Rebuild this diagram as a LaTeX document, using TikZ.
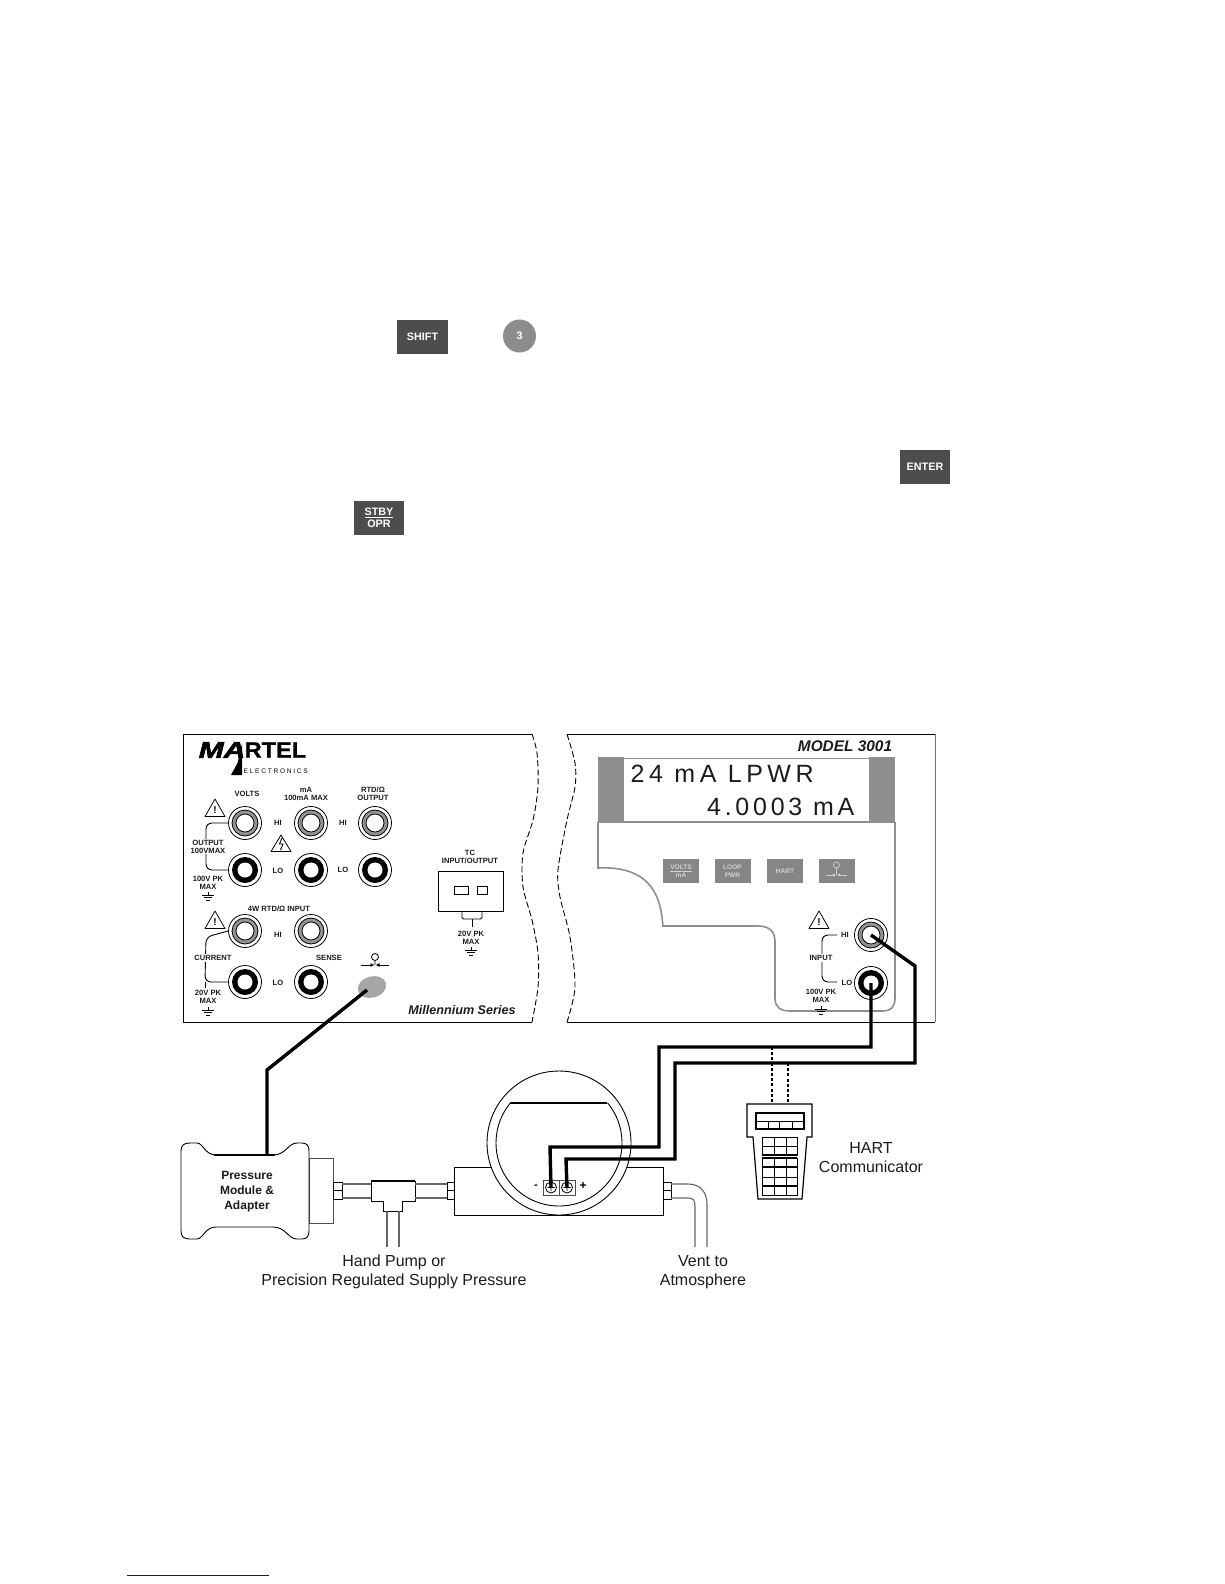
\documentclass[tikz,border=0pt]{standalone}
\usepackage{fontspec}
\setmainfont{Liberation Sans}
\newfontfamily\lcdfont[LetterSpace=18]{Liberation Sans}
\newfontfamily\lcdfontb[LetterSpace=15]{Liberation Sans}
\newfontfamily\logofont[LetterSpace=26]{Liberation Sans}
\newfontfamily\logoheavy[BoldItalicFeatures={FakeBold=2.2},BoldFeatures={FakeBold=1}]{Liberation Sans}
\usetikzlibrary{arrows.meta,shapes.geometric}
\definecolor{btn}{HTML}{4D4D4D}
\definecolor{softbtn}{HTML}{868686}
\definecolor{panelgrey}{HTML}{8E8E8E}
\definecolor{ink}{HTML}{1C1C1C}
\definecolor{rulenavy}{HTML}{14147A}
\tikzset{
  lab/.style={font=\bfseries\fontsize{7.6}{8}\selectfont,text=ink,inner sep=0pt,align=center},
  labw/.style={lab,fill=white,inner sep=1pt},
  big/.style={font=\fontsize{16}{18}\selectfont,text=ink,inner sep=0pt,align=center},
  keybtn/.style={fill=btn,draw=none,text=white,font=\bfseries\fontsize{10.8}{12}\selectfont,align=center,inner sep=0pt},
  softkey/.style={fill=softbtn,draw=none,text=white!82!black,font=\bfseries\fontsize{6.6}{8}\selectfont,align=center,inner sep=0pt,minimum width=36pt,minimum height=24pt},
  jackbase/.style={circle,draw=black,line width=.8pt,minimum size=33pt,inner sep=0pt},
  wire/.style={line width=3.4pt,draw=black,line join=miter},
  thin/.style={line width=.9pt,draw=black},
  pipe/.style={line width=1.1pt,draw=black!60},
  hartline/.style={line width=1.5pt,draw=black},
  cut/.style={line width=.9pt,dash pattern=on 6pt off 3pt,draw=black}
}
\newcommand{\jackhi}[3]{\node[jackbase] (#1) at (#2,#3) {};
  \draw[line width=.8pt,fill=gray!85] (#1) circle[radius=13pt];
  \draw[line width=.8pt,fill=white] (#1) circle[radius=9pt];}
\newcommand{\jacklo}[3]{\node[jackbase] (#1) at (#2,#3) {};
  \fill[black] (#1) circle[radius=13pt];
  \fill[white] (#1) circle[radius=7.5pt];}
\newcommand{\warntri}[2]{\draw[line width=.8pt,line join=round,fill=white] (#1-10,#2+8.5) -- (#1,#2-9) -- (#1+10,#2+8.5) -- cycle;
  \node[inner sep=0pt,font=\bfseries\fontsize{10}{10}\selectfont] at (#1,#2+2) {!};}
\newcommand{\earth}[2]{\draw[line width=.8pt] (#1,#2-3) -- (#1,#2) (#1-6,#2) -- (#1+6,#2) (#1-4,#2+2.5) -- (#1+4,#2+2.5) (#1-2,#2+5) -- (#1+2,#2+5);}
\begin{document}
\begin{tikzpicture}[x=1pt,y=-1pt]
\useasboundingbox (0,0) rectangle (1224,1584);
\fill[white] (0,0) rectangle (1224,1584);

% loose key caps
\node[keybtn,minimum width=51pt,minimum height=34pt] (shiftkey) at (422.5,337) {SHIFT};
\node[circle,fill=gray!90,text=white,font=\bfseries\fontsize{10.8}{12}\selectfont,minimum size=33pt,inner sep=0pt] (threekey) at (519.5,336) {3};
\node[keybtn,minimum width=50pt,minimum height=34pt] (enterkey) at (925,467) {ENTER};
\node[keybtn,minimum width=50pt,minimum height=34pt] (stbykey) at (379,518) {\underline{STBY}\\OPR};

% footnote rule
\draw[line width=1pt,draw=rulenavy] (127,1575) -- (269,1575);

% left panel
\draw[thin] (532,734) -- (183,734) -- (183,1022) -- (532,1022);
\draw[cut] plot[smooth] coordinates {(532,734) (537,753) (538,787) (533,820) (523,853) (523,887) (532,920) (538,953) (538,987) (532,1022)};

% logo
\node[inner sep=0pt,font=\logoheavy\bfseries\itshape\fontsize{23}{23}\selectfont,xscale=1.3] (logoma) at (222,750) {MA};
\fill[black] (242,744) -- (242,775) -- (231,775) -- (237.5,763) -- cycle;
\node[inner sep=0pt,font=\logoheavy\bfseries\fontsize{22}{22}\selectfont,anchor=west,xscale=1.07] (logort) at (244.5,750) {RTEL};
\node[inner sep=0pt,font=\logofont\fontsize{6.6}{7}\selectfont,anchor=west] (logoel) at (243.5,771.5) {ELECTRONICS};

% left panel jacks
\jackhi{vh}{245}{823}
\jackhi{ah}{311}{823}
\jackhi{rh}{375}{823}
\jacklo{vl}{245}{870}
\jacklo{al}{311}{870}
\jacklo{rl}{375}{870}
\jackhi{ih}{245}{931}
\jackhi{sh}{311}{931}
\jacklo{il}{245}{982}
\jacklo{sl}{311}{982}

\draw[thin,rounded corners=6pt] (vh.west) -- (206,823) -- (206,870) -- (vl.west);
\draw[thin,rounded corners=6pt] (ih.west) -- (206,937) -- (205,982) -- (il.west);
\draw[thin] (205,982) -- (205,988);

% left panel labels
\node[lab] (lvolts) at (247,794) {VOLTS};
\node[lab] (lma) at (306,793.5) {mA\\100mA MAX};
\node[lab] (lrtd) at (373,793.5) {RTD/Ω\\OUTPUT};
\node[lab] (hi1) at (278,823) {HI};
\node[lab] (hi2) at (343,823) {HI};
\node[lab] (lo1) at (278,871) {LO};
\node[lab] (lo2) at (343,870) {LO};
\node[labw] (lout) at (208,846.5) {OUTPUT\\100VMAX};
\node[labw] (l100) at (208,882.5) {100V PK\\MAX};
\earth{208}{895}
\node[lab] (l4w) at (279,909) {4W RTD/Ω INPUT};
\node[lab] (hi3) at (278,935) {HI};
\node[labw] (lcur) at (213,958) {CURRENT};
\node[lab] (lsense) at (329,958) {SENSE};
\node[lab] (lo3) at (278,983) {LO};
\node[labw] (l20) at (208,996.5) {20V PK\\MAX};
\earth{208}{1010}
\warntri{215}{808}
\warntri{215}{920}
\draw[line width=.8pt,line join=round] (271,851.5) -- (281,835) -- (291,851.5) -- cycle;
\draw[line width=.9pt] (282,838) -- (279.5,844) -- (283,844) -- (280.5,850);

% pressure symbol + port
\draw[line width=.8pt] (375,957) circle[radius=3.5pt] (375,960.5) -- (375,965);
\draw[line width=.8pt,-{Latex[length=4pt,width=4pt]}] (361,965) -- (374.5,965);
\draw[line width=.8pt,-{Latex[length=4pt,width=4pt]}] (389,965) -- (375.5,965);
\node[ellipse,fill=gray!70,minimum width=29pt,minimum height=21pt,inner sep=0pt,rotate=15] (port) at (372,987) {};

\node[inner sep=0pt,font=\bfseries\itshape\fontsize{12.6}{13}\selectfont,text=ink] (lmill) at (462,1010) {Millennium Series};

% TC block
\node[lab] (ltc) at (470,857) {TC\\INPUT/OUTPUT};
\draw[thin] (438,871) rectangle (503,911);
\draw[thin] (454,886) rectangle (468,894);
\draw[thin] (477,886) rectangle (487,894);
\draw[thin,rounded corners=1.5pt] (462,911) -- (462,919) -- (482,919) -- (482,911);
\draw[thin] (472,919) -- (472,927);
\node[lab] (ltcv) at (471,937.5) {20V PK\\MAX};
\earth{471}{950}

% right panel
\draw[thin] (567,734) -- (935,734);
\draw[thin] (567,1022) -- (935,1022);
\draw[line width=.9pt,draw=black!55] (935,734) -- (935,1022);
\draw[cut] plot[smooth] coordinates {(567,734) (575,763) (575,787) (567,820) (558,870) (560,897) (570,937) (575,987) (567,1022)};

% display
\fill[panelgrey] (598,757) rectangle (624,822);
\fill[panelgrey] (869,757) rectangle (895,822);
\draw[line width=1.4pt,draw=panelgrey] (598,822) -- (895,822);
\draw[line width=1pt,draw=panelgrey] (624,758) -- (869,758);
\node[inner sep=0pt,anchor=base west,font=\lcdfont\fontsize{25}{25}\selectfont,text=ink] (dl1) at (630.5,782) {24 mA LPWR};
\node[inner sep=0pt,anchor=base east,font=\lcdfontb\fontsize{25}{25}\selectfont,text=ink] (dl2) at (854.5,815) {4.0003 mA};
\draw[line width=1.6pt,draw=panelgrey] (598,822) -- (598,868) .. controls (640,866) and (658,885) .. (662,917) -- (663,926) -- (758,926) .. controls (770,926) and (775,932) .. (775,942) -- (775,998) .. controls (775,1007) and (780,1011) .. (790,1011) -- (882,1011) .. controls (892,1011) and (895,1006) .. (895,998) -- (895,822);

% soft keys
\node[softkey] (kv) at (681,871) {\underline{VOLTS}\\mA};
\node[softkey] (kl) at (732.5,871) {LOOP\\PWR};
\node[softkey] (kh) at (785,871) {HART};
\node[softkey] (kp) at (836.5,871) {};
\draw[line width=.7pt,draw=white!82!black] (836.5,865) circle[radius=3pt] (836.5,868) -- (836.5,875);
\draw[line width=.7pt,draw=white!82!black,-{Latex[length=3pt,width=3pt]}] (826,875) -- (836,875);
\draw[line width=.7pt,draw=white!82!black,-{Latex[length=3pt,width=3pt]}] (847,875) -- (837,875);

% right panel input
\jackhi{inh}{871}{935}
\jacklo{inl}{871}{983}
\warntri{819}{920}
\node[lab] (lhi) at (845,935) {HI};
\node[lab] (llo) at (847,983) {LO};
\draw[thin,rounded corners=6pt] (837,935) -- (822,935) -- (822,982) -- (837,982);
\node[labw] (linp) at (821,958) {INPUT};
\node[labw] (l100r) at (821,995.5) {100V PK\\MAX};
\earth{821}{1009}
\node[inner sep=0pt,font=\bfseries\itshape\fontsize{15.4}{16}\selectfont,text=ink] (lmodel) at (845,746) {MODEL 3001};

% HART communicator
\draw[line width=1.2pt] (747,1104) -- (812,1104) -- (812,1137) -- (807,1137) -- (802,1199) -- (758,1199) -- (753,1137) -- (747,1137) -- cycle;
\draw[hartline] (756,1113) rectangle (804,1129);
\draw[thin] (756,1121) -- (804,1121) (768,1121) -- (768,1129) (779,1121) -- (779,1129) (792,1121) -- (792,1129);
\draw[thin] (762,1137) rectangle (797,1155) (774,1137) -- (774,1155) (786,1137) -- (786,1155) (762,1146) -- (797,1146);
\draw[hartline] (762,1155) -- (797,1155);
\draw[thin] (762,1158) rectangle (797,1195) (774,1158) -- (774,1195) (786,1158) -- (786,1195) (762,1177) -- (797,1177);
\draw[hartline] (762,1158) -- (797,1158) (762,1167) -- (797,1167) (762,1186) -- (797,1186);
\coordinate (hartA) at (772,1104);
\coordinate (hartB) at (788,1104);
\coordinate (wireLOc) at (772,1047);
\coordinate (wireHIc) at (788,1063);
\draw[line width=1.8pt,dash pattern=on 3pt off 2.2pt] (wireLOc) -- (hartA);
\draw[line width=1.8pt,dash pattern=on 3pt off 2.2pt] (wireHIc) -- (hartB);
\node[big] (lhart) at (871,1158) {HART\\[1pt]Communicator};

% pressure module
\draw[thin,draw=black!70] (309,1158) rectangle (333,1223);
\draw[thin,fill=white] (181,1151) .. controls (181,1145) and (184,1143) .. (190,1143) -- (197,1143) .. controls (203,1143) and (205,1155) .. (216,1155) -- (273,1155) .. controls (286,1155) and (288,1143) .. (297,1143) -- (302,1143) .. controls (307,1143) and (309,1146) .. (309,1151) -- (309,1231) .. controls (309,1236) and (307,1239) .. (302,1239) -- (297,1239) .. controls (288,1239) and (286,1227) .. (273,1227) -- (216,1227) .. controls (205,1227) and (203,1239) .. (197,1239) -- (190,1239) .. controls (184,1239) and (181,1237) .. (181,1231) -- cycle;
\draw[line width=1.8pt] (214,1155) -- (275,1155);
\node[inner sep=0pt,align=center,font=\bfseries\fontsize{12}{15}\selectfont,text=ink] (lmod) at (247,1191.5) {Pressure\\Module \&\\Adapter};

% pipes and tee
\draw[thin,fill=white] (333,1182) rectangle (342,1199);
\draw[thin] (333,1190.5) -- (342,1190.5);
\draw[pipe] (342,1184) -- (371,1184) (342,1198) -- (371,1198);
\draw[thin,fill=white] (371,1181) -- (415,1181) -- (415,1201) -- (402,1201) -- (402,1211) -- (383,1211) -- (383,1201) -- (371,1201) -- cycle;
\draw[line width=1.8pt] (371,1181) -- (415,1181);
\draw[pipe] (387,1211) -- (387,1247) (399,1211) -- (399,1247);
\draw[pipe] (415,1184) -- (447,1184) (415,1198) -- (447,1198);
\draw[thin,fill=white] (447,1182) rectangle (455,1199);
\draw[thin] (447,1190.5) -- (455,1190.5);

% transmitter
\draw[thin,fill=white] (454,1167) rectangle (663,1215);
\node[circle,draw=black,line width=.9pt,fill=white,minimum size=144pt,inner sep=0pt] (meter) at (559,1143) {};
\begin{scope}
\clip (480,1103) rectangle (640,1216);
\draw[thin] (meter.center) circle[radius=63pt];
\end{scope}
\draw[line width=1.4pt] (510,1103) -- (607,1103);
\node[rectangle,draw=black!70,line width=.8pt,minimum width=16pt,minimum height=15pt,inner sep=0pt] (tminus) at (551,1187.5) {};
\node[rectangle,draw=black!70,line width=.8pt,minimum width=16pt,minimum height=15pt,inner sep=0pt] (tplus) at (567,1187.5) {};
\draw[line width=.8pt] (tminus) circle[radius=5.5pt] ([xshift=-3.5pt]tminus.center) -- ([xshift=3.5pt]tminus.center) ([yshift=-3.5pt]tminus.center) -- ([yshift=3.5pt]tminus.center);
\draw[line width=.8pt] (tplus) circle[radius=5.5pt] ([xshift=-3.5pt]tplus.center) -- ([xshift=3.5pt]tplus.center) ([yshift=-3.5pt]tplus.center) -- ([yshift=3.5pt]tplus.center);
\node[inner sep=0pt,font=\bfseries\fontsize{11}{11}\selectfont] (lminus) at (536,1187) {-};
\node[inner sep=0pt,font=\bfseries\fontsize{12}{12}\selectfont] (lplus) at (583,1186) {+};

% vent
\draw[thin,fill=white] (663,1182) rectangle (671,1199);
\draw[thin] (663,1190.5) -- (671,1190.5);
\draw[pipe] (671,1184) -- (688,1184) .. controls (700,1184) and (707,1192) .. (707,1204) -- (707,1247);
\draw[pipe] (671,1198) -- (688,1198) .. controls (693,1198) and (695,1200) .. (695,1206) -- (695,1247);

% wires
\draw[wire] (port.center) ++(-5,3) -- (267,1070) -- (267,1155);
\draw[wire] (inl.center) -- (871,1047) -- (659,1047) -- (659,1147) -- (550,1147) -- (tminus.center);
\draw[wire] (inh.center) -- (915,966) -- (915,1063) -- (675,1063) -- (675,1159) -- (566,1159) -- (tplus.center);

% captions
\node[big] (lpump) at (394,1262) {Hand Pump or};
\node[big] (lprec) at (394,1281) {Precision Regulated Supply Pressure};
\node[big] (lvent) at (703,1261.5) {Vent to};
\node[big] (latm) at (703,1281) {Atmosphere};
\end{tikzpicture}
\end{document}
